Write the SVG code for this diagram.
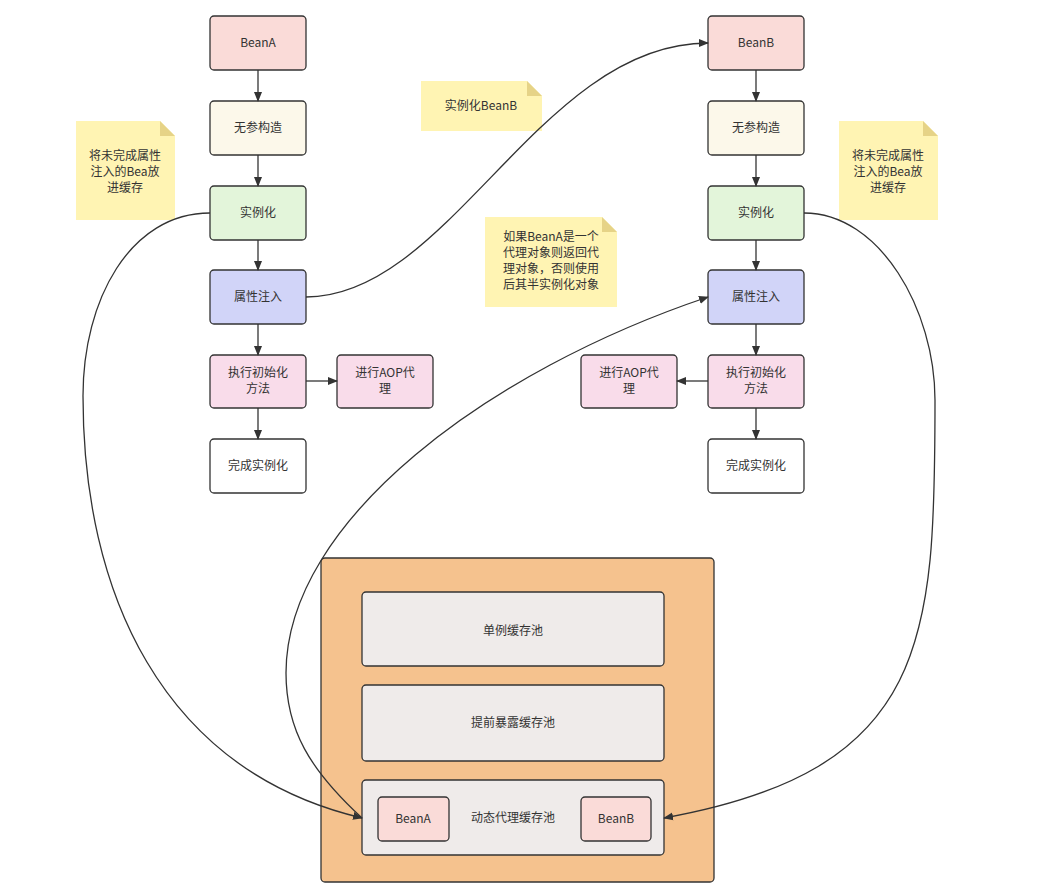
<svg xmlns="http://www.w3.org/2000/svg" width="1050" height="895" viewBox="0 0 1050 895">
<defs>
<marker id="arr" viewBox="0 0 10 10" refX="9" refY="5" markerWidth="10" markerHeight="10" markerUnits="userSpaceOnUse" orient="auto"><path d="M0,1 L10,5 L0,9 Z" fill="#333"/></marker>
<style>
.n{stroke:#333;stroke-width:1.3}
.t{font-family:"Noto Sans CJK SC","Liberation Sans",sans-serif;font-size:12px;fill:#333;text-anchor:middle}
.note{fill:#FFF4B3}
.fold{fill:#E6D387}
.c{fill:none;stroke:#333;stroke-width:1.3}
</style>
</defs>
<rect width="1050" height="895" fill="#fff"/>
<g id="container">
<rect x="321" y="558" width="393" height="324" rx="4" fill="#F5C28E" class="n"/>
</g>
<g id="pool1"><rect x="362" y="592" width="302" height="74" rx="4" fill="#EFEBEA" class="n"/><text x="513" y="635" class="t">单例缓存池</text></g>
<g id="pool2"><rect x="362" y="685" width="302" height="76" rx="4" fill="#EFEBEA" class="n"/><text x="513" y="727" class="t">提前暴露缓存池</text></g>
<g id="pool3"><rect x="362" y="780" width="302" height="75" rx="4" fill="#EFEBEA" class="n"/><text x="513" y="822" class="t">动态代理缓存池</text></g>
<g id="poolBeanA"><rect x="378" y="797" width="71" height="44" rx="4" fill="#FADBD8" class="n"/><text x="413" y="823" class="t">BeanA</text></g>
<g id="poolBeanB"><rect x="581" y="797" width="70" height="44" rx="4" fill="#FADBD8" class="n"/><text x="616" y="823" class="t">BeanB</text></g>

<g id="a1"><rect x="210" y="16" width="96" height="54" rx="4" fill="#FADBD8" class="n"/><text x="258" y="47" class="t">BeanA</text></g>
<g id="a2"><rect x="210" y="101" width="96" height="54" rx="4" fill="#FCF8EA" class="n"/><text x="258" y="132" class="t">无参构造</text></g>
<g id="a3"><rect x="210" y="186" width="96" height="54" rx="4" fill="#E3F5DA" class="n"/><text x="258" y="217" class="t">实例化</text></g>
<g id="a4"><rect x="210" y="270" width="96" height="54" rx="4" fill="#D1D4F8" class="n"/><text x="258" y="301" class="t">属性注入</text></g>
<g id="a5"><rect x="210" y="355" width="96" height="53" rx="4" fill="#F9DCEA" class="n"/><text x="258" y="377" class="t">执行初始化</text><text x="258" y="393" class="t">方法</text></g>
<g id="a6"><rect x="210" y="439" width="96" height="54" rx="4" fill="#FFFFFF" class="n"/><text x="258" y="470" class="t">完成实例化</text></g>
<g id="aAop"><rect x="337" y="355" width="96" height="53" rx="4" fill="#F9DCEA" class="n"/><text x="385" y="377" class="t">进行AOP代</text><text x="385" y="393" class="t">理</text></g>

<g id="b1"><rect x="708" y="16" width="96" height="54" rx="4" fill="#FADBD8" class="n"/><text x="756" y="47" class="t">BeanB</text></g>
<g id="b2"><rect x="708" y="101" width="96" height="54" rx="4" fill="#FCF8EA" class="n"/><text x="756" y="132" class="t">无参构造</text></g>
<g id="b3"><rect x="708" y="186" width="96" height="54" rx="4" fill="#E3F5DA" class="n"/><text x="756" y="217" class="t">实例化</text></g>
<g id="b4"><rect x="708" y="270" width="96" height="54" rx="4" fill="#D1D4F8" class="n"/><text x="756" y="301" class="t">属性注入</text></g>
<g id="b5"><rect x="708" y="355" width="96" height="53" rx="4" fill="#F9DCEA" class="n"/><text x="756" y="377" class="t">执行初始化</text><text x="756" y="393" class="t">方法</text></g>
<g id="b6"><rect x="708" y="439" width="96" height="54" rx="4" fill="#FFFFFF" class="n"/><text x="756" y="470" class="t">完成实例化</text></g>
<g id="bAop"><rect x="581" y="355" width="96" height="53" rx="4" fill="#F9DCEA" class="n"/><text x="629" y="377" class="t">进行AOP代</text><text x="629" y="393" class="t">理</text></g>

<g id="noteL"><path d="M76,121 H160 L175,136 V220 H76 Z" class="note"/><path d="M160,121 L175,136 H160 Z" class="fold"/><text x="125" y="160" class="t">将未完成属性</text><text x="125" y="176" class="t">注入的Bea放</text><text x="125" y="192" class="t">进缓存</text></g>
<g id="noteB"><path d="M421,81 H527 L542,96 V131 H421 Z" class="note"/><path d="M527,81 L542,96 H527 Z" class="fold"/><text x="481" y="110" class="t">实例化BeanB</text></g>
<g id="noteP"><path d="M485,217 H602 L617,232 V307 H485 Z" class="note"/><path d="M602,217 L617,232 H602 Z" class="fold"/><text x="551" y="241" class="t">如果BeanA是一个</text><text x="551" y="257" class="t">代理对象则返回代</text><text x="551" y="273" class="t">理对象，否则使用</text><text x="551" y="289" class="t">后其半实例化对象</text></g>
<g id="noteR"><path d="M839,121 H923 L938,136 V220 H839 Z" class="note"/><path d="M923,121 L938,136 H923 Z" class="fold"/><text x="888" y="160" class="t">将未完成属性</text><text x="888" y="176" class="t">注入的Bea放</text><text x="888" y="192" class="t">进缓存</text></g>

<g id="connectors">
<path d="M258,70 V101" class="c" marker-end="url(#arr)"/>
<path d="M258,155 V186" class="c" marker-end="url(#arr)"/>
<path d="M258,240 V270" class="c" marker-end="url(#arr)"/>
<path d="M258,324 V355" class="c" marker-end="url(#arr)"/>
<path d="M258,408 V439" class="c" marker-end="url(#arr)"/>
<path d="M306,381 H337" class="c" marker-end="url(#arr)"/>
<path d="M756,70 V101" class="c" marker-end="url(#arr)"/>
<path d="M756,155 V186" class="c" marker-end="url(#arr)"/>
<path d="M756,240 V270" class="c" marker-end="url(#arr)"/>
<path d="M756,324 V355" class="c" marker-end="url(#arr)"/>
<path d="M756,408 V439" class="c" marker-end="url(#arr)"/>
<path d="M708,381 H677" class="c" marker-end="url(#arr)"/>
<path d="M210,213 C130,213 83,300 83,396 C83,590 160,770 362,818" class="c" marker-end="url(#arr)"/>
<path d="M306,297 C450,297 540,43 708,43" class="c" marker-end="url(#arr)"/>
<path d="M804,213 C880,213 935,310 935,400 C935,640 930,770 664,818" class="c" marker-end="url(#arr)"/>
<path d="M362,818 C310,770 286,730 286,673 C286,520 490,370 708,297" class="c" marker-end="url(#arr)"/>
</g>
</svg>
